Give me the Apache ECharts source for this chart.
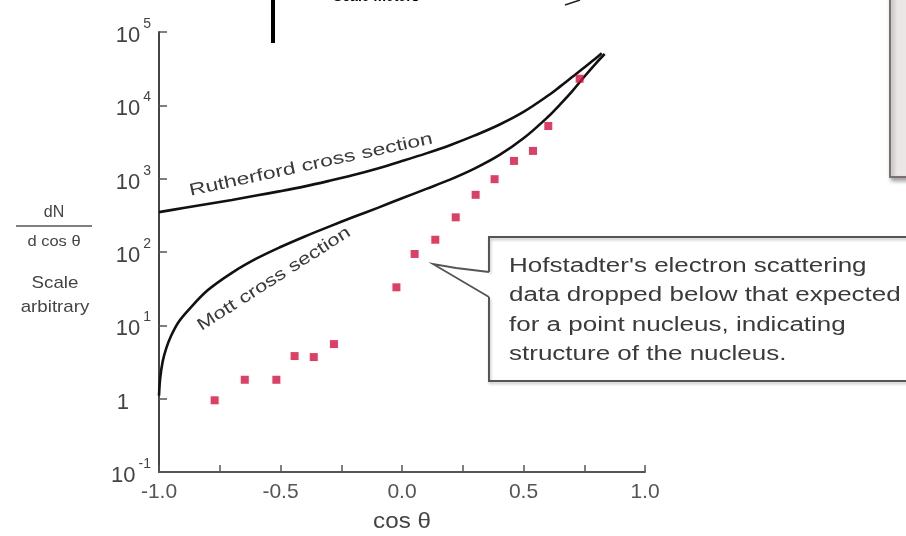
<!DOCTYPE html>
<html>
<head>
<meta charset="utf-8">
<script src="https://cdn.jsdelivr.net/npm/echarts@6/dist/echarts.min.js"></script>
<style>
  html, body { margin: 0; padding: 0; background: #fff; }
  #chart { width: 906px; height: 536px; }
</style>
</head>
<body>
<div id="chart"></div>
<script>
// Rutherford curve (cos θ, dN/dcosθ)
const rutherfordCos = [-1, -0.9, -0.8, -0.7, -0.6, -0.5, -0.4, -0.3, -0.2, -0.1, 0, 0.1, 0.2, 0.3, 0.4, 0.5, 0.6, 0.65, 0.7, 0.75, 0.8, 0.822]
const rutherfordVal = [350, 398, 452, 513, 589, 676, 785, 933, 1122, 1380, 1738, 2213, 2884, 3890, 5433, 8128, 13490, 17990, 24270, 32730, 44670, 51290]

// Mott curve
const mottCos = [-1, -0.995, -0.985, -0.97, -0.95, -0.92, -0.88, -0.8, -0.7, -0.6, -0.5, -0.4, -0.3, -0.2, -0.1, 0, 0.1, 0.2, 0.3, 0.4, 0.5, 0.6, 0.65, 0.7, 0.75, 0.8, 0.834]
const mottVal = [1.1, 1.9, 3.2, 4.9, 7.2, 11, 16, 30, 52, 81, 117, 163, 222, 300, 400, 540, 725, 977, 1380, 2089, 3548, 6918, 10230, 15490, 24550, 38020, 50120]

// Hofstadter data points
const dataCos = [-0.771, -0.647, -0.517, -0.442, -0.363, -0.28, -0.023, 0.052, 0.137, 0.221, 0.303, 0.381, 0.461, 0.539, 0.602, 0.731]
const dataVal = [0.95, 1.81, 1.81, 3.81, 3.69, 5.55, 33, 94, 147, 297, 602, 984, 1746, 2389, 5226, 23080]

const xTickLabels = ['-1.0', '-0.5', '0.0', '0.5', '1.0']
const yTickExps = [-1, 0, 1, 2, 3, 4, 5]

const boxLines = [
  "Hofstadter's electron scattering",
  'data dropped below that expected',
  'for a point nucleus, indicating',
  'structure of the nucleus.'
]

const FONT = '"Liberation Sans", Arial, sans-serif'
const TXT = '#3a3a3a'

const zip = (a, b) => a.map((v, i) => [v, b[i]])

const chart = echarts.init(document.getElementById('chart'), null, { renderer: 'canvas' })

const option = {
  backgroundColor: '#fff',
  animation: false,
  grid: { left: 159, right: 261, top: 32, bottom: 64 },
  xAxis: {
    type: 'value',
    min: -1,
    max: 1,
    interval: 0.25,
    axisLine: { onZero: false, lineStyle: { color: '#555', width: 2 } },
    axisTick: { inside: true, length: 7, lineStyle: { color: '#555', width: 1.5 } },
    splitLine: { show: false },
    axisLabel: {
      margin: 10,
      fontFamily: FONT,
      fontSize: 21,
      color: '#555',
      formatter: (v) => {
        const i = Math.round((v + 1) * 2)
        return Math.abs((v + 1) * 2 - i) < 1e-6 ? xTickLabels[i] : ''
      }
    }
  },
  yAxis: {
    type: 'log',
    logBase: 10,
    min: 0.1,
    max: 100000,
    axisLine: { onZero: false, lineStyle: { color: '#444', width: 2 } },
    axisTick: { inside: true, length: 8, lineStyle: { color: '#555', width: 1.5 } },
    splitLine: { show: false },
    axisLabel: {
      margin: 8,
      color: '#444',
      fontFamily: FONT,
      formatter: (v) => {
        const e = Math.round(Math.log10(v))
        if (!yTickExps.includes(e)) return ''
        if (e === 0) return '{b|1}{g|}'
        return '{b|10}{s|' + e + '}'
      },
      rich: {
        b: { fontSize: 22, fontFamily: FONT, color: '#444', padding: [8, 0, 0, 0], verticalAlign: 'bottom' },
        s: { fontSize: 14, fontFamily: FONT, color: '#444', verticalAlign: 'top', padding: [0, 0, 0, 3] },
        g: { width: 22 }
      }
    }
  },
  series: [
    {
      name: 'Rutherford',
      type: 'line',
      smooth: 0.35,
      showSymbol: false,
      data: zip(rutherfordCos, rutherfordVal),
      lineStyle: { color: '#111', width: 2.6 }
    },
    {
      name: 'Mott',
      type: 'line',
      smooth: 0.35,
      showSymbol: false,
      data: zip(mottCos, mottVal),
      lineStyle: { color: '#111', width: 2.6 }
    },
    {
      name: 'Hofstadter',
      type: 'scatter',
      symbol: 'rect',
      symbolSize: 8,
      itemStyle: { color: '#d3123f' },
      data: zip(dataCos, dataVal),
      z: 5
    }
  ],
  graphic: [
    // y axis title
    { type: 'text', x: 54, y: 213, style: { text: 'dN', font: '16px ' + FONT, fill: '#444', align: 'center', verticalAlign: 'middle' } },
    { type: 'line', shape: { x1: 16, y1: 226, x2: 92, y2: 226 }, style: { stroke: '#555', lineWidth: 1.6 } },
    { type: 'text', x: 54, y: 242, scaleX: 1.1, style: { text: 'd cos θ', font: '15px ' + FONT, fill: '#444', align: 'center', verticalAlign: 'middle' } },
    { type: 'text', x: 55, y: 283, scaleX: 1.1, style: { text: 'Scale', font: '17px ' + FONT, fill: '#444', align: 'center', verticalAlign: 'middle' } },
    { type: 'text', x: 55, y: 307, scaleX: 1.1, style: { text: 'arbitrary', font: '17px ' + FONT, fill: '#444', align: 'center', verticalAlign: 'middle' } },
    // x axis title
    { type: 'text', x: 402, y: 522, scaleX: 1.1, style: { text: 'cos θ', font: '22px ' + FONT, fill: '#444', align: 'center', verticalAlign: 'middle' } },
    // curve labels
    { type: 'text', x: 311, y: 165, rotation: 0.213, scaleX: 1.35, style: { text: 'Rutherford cross section', font: '17px ' + FONT, fill: TXT, align: 'center', verticalAlign: 'middle' } },
    { type: 'text', x: 274, y: 279, rotation: 0.569, scaleX: 1.3, style: { text: 'Mott cross section', font: '17px ' + FONT, fill: TXT, align: 'center', verticalAlign: 'middle' } },
    // annotation box with pointer
    {
      type: 'polyline',
      shape: { points: [[489, 272], [489, 237], [915, 237], [915, 381], [489, 381], [489, 297]] },
      style: { stroke: '#555', lineWidth: 2, fill: null, shadowBlur: 3, shadowColor: 'rgba(0,0,0,0.25)', shadowOffsetX: 1, shadowOffsetY: 2 }
    },
    { type: 'polygon', shape: { points: [[489, 273], [489, 296], [433, 264]] }, style: { fill: '#fff' } },
    { type: 'polyline', shape: { points: [[489, 272], [456, 268], [433, 264], [489, 297]] }, style: { stroke: '#555', lineWidth: 1.8, fill: null } },
    ...boxLines.map((t, i) => ({
      type: 'text', x: 509, y: 266 + i * 29.5, scaleX: 1.3,
      style: { text: t, font: '20px ' + FONT, fill: TXT, verticalAlign: 'middle' }
    })),
    // clutter from the neighbouring figure at the top
    { type: 'rect', shape: { x: 271, y: 0, width: 4, height: 43 }, style: { fill: '#000' } },
    { type: 'text', x: 333, y: -3, style: { text: 'Scale meters', font: 'bold 14px ' + FONT, fill: '#000', verticalAlign: 'middle' } },
    { type: 'line', shape: { x1: 565, y1: 5, x2: 580, y2: 0 }, style: { stroke: '#222', lineWidth: 1.5 } },
    {
      type: 'rect', shape: { x: 890, y: -10, width: 40, height: 187 },
      style: { fill: '#ece7e7', stroke: '#7a7070', lineWidth: 2, shadowBlur: 4, shadowColor: 'rgba(0,0,0,0.35)', shadowOffsetX: 2, shadowOffsetY: 3 }
    }
  ]
}

chart.setOption(option)
</script>
</body>
</html>
